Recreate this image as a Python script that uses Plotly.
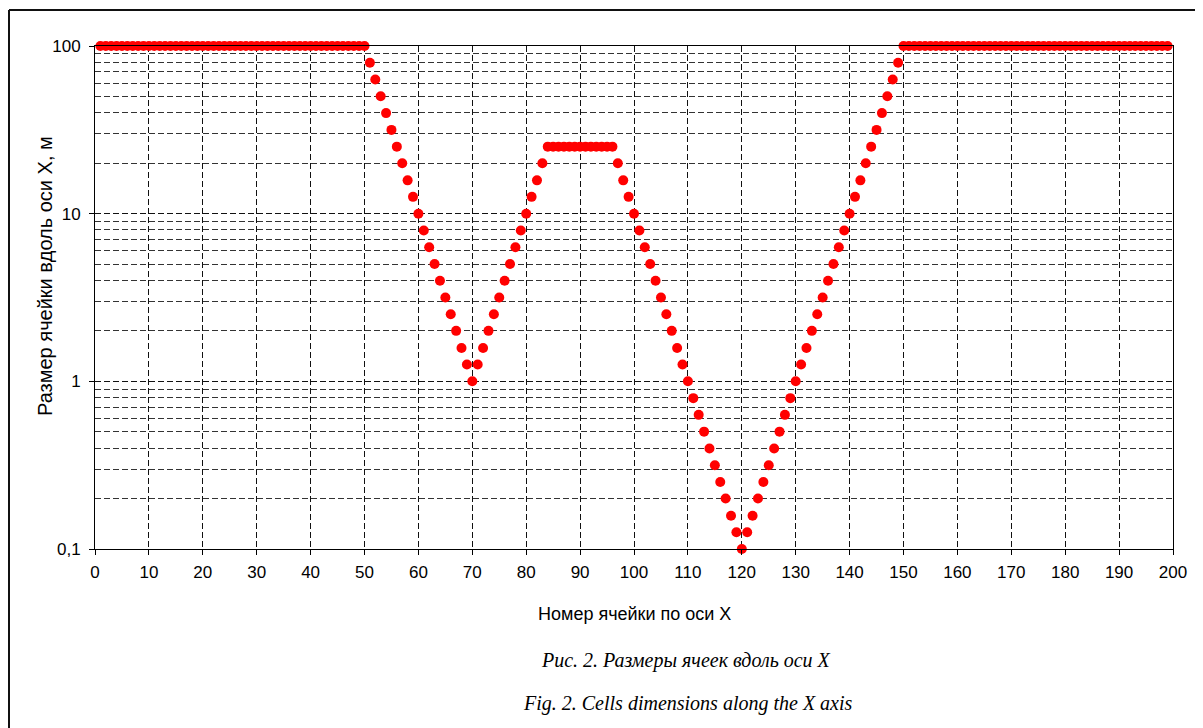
import plotly.graph_objects as go

# ---- data ----
cells = list(range(1, 200))

size_left_plateau = [
    100, 100, 100, 100, 100, 100, 100, 100, 100, 100,
    100, 100, 100, 100, 100, 100, 100, 100, 100, 100,
    100, 100, 100, 100, 100, 100, 100, 100, 100, 100,
    100, 100, 100, 100, 100, 100, 100, 100, 100, 100,
    100, 100, 100, 100, 100, 100, 100, 100, 100, 100,
]
size_first_dip = [
    79.4, 63.1, 50.1, 39.8, 31.6, 25.1, 20.0, 15.8, 12.6, 10.0,
    7.94, 6.31, 5.01, 3.98, 3.16, 2.51, 2.00, 1.58, 1.26, 1.00,
    1.26, 1.58, 2.00, 2.51, 3.16, 3.98, 5.01, 6.31, 7.94, 10.0,
    12.6, 15.8, 20.0,
]
size_mid_plateau = [25.1, 25.1, 25.1, 25.1, 25.1, 25.1, 25.1, 25.1, 25.1, 25.1, 25.1, 25.1, 25.1]
size_second_dip = [
    20.0, 15.8, 12.6, 10.0, 7.94, 6.31, 5.01, 3.98, 3.16, 2.51,
    2.00, 1.58, 1.26, 1.00, 0.794, 0.631, 0.501, 0.398, 0.316, 0.251,
    0.200, 0.158, 0.126, 0.100, 0.126, 0.158, 0.200, 0.251, 0.316, 0.398,
    0.501, 0.631, 0.794, 1.00, 1.26, 1.58, 2.00, 2.51, 3.16, 3.98,
    5.01, 6.31, 7.94, 10.0, 12.6, 15.8, 20.0, 25.1, 31.6, 39.8,
    50.1, 63.1, 79.4,
]
size_right_plateau = [
    100, 100, 100, 100, 100, 100, 100, 100, 100, 100,
    100, 100, 100, 100, 100, 100, 100, 100, 100, 100,
    100, 100, 100, 100, 100, 100, 100, 100, 100, 100,
    100, 100, 100, 100, 100, 100, 100, 100, 100, 100,
    100, 100, 100, 100, 100, 100, 100, 100, 100, 100,
]
cell_size = size_left_plateau + size_first_dip + size_mid_plateau + size_second_dip + size_right_plateau

x_ticks = list(range(0, 201, 10))
y_major = [0.1, 1, 10, 100]
y_major_text = ["0,1", "1", "10", "100"]
y_minor = [0.2, 0.3, 0.4, 0.5, 0.6, 0.7, 0.8, 0.9,
           2, 3, 4, 5, 6, 7, 8, 9,
           20, 30, 40, 50, 60, 70, 80, 90]

x_title = "Номер ячейки по оси X"
y_title = "Размер ячейки вдоль оси X, м"
caption_ru = "Рис. 2. Размеры ячеек вдоль оси X"
caption_en = "Fig. 2. Cells dimensions along the X axis"

# ---- figure (page body has an 8px margin, so everything is offset) ----
OFF = 8
W, H = 1203 - OFF, 728 - OFF
L, T = 95 - OFF, 46 - OFF
pw, ph = 1078, 503
R = W - L - pw
B = H - T - ph

def px_x(p):
    return (p - OFF - L) / pw

def px_y(p):
    return (T + ph - (p - OFF)) / ph

fig = go.Figure()
fig.add_trace(go.Scatter(
    x=cells, y=cell_size, mode="markers",
    marker=dict(color="#ff0000", size=10, line=dict(width=0)),
    cliponaxis=False, showlegend=False,
))

grid_dash = "6px,3px"
sans = "Liberation Sans, Arial, sans-serif"
serif = "Liberation Serif, Times New Roman, serif"
fig.update_layout(
    width=W, height=H,
    margin=dict(l=L, r=R, t=T, b=B, autoexpand=False),
    paper_bgcolor="white", plot_bgcolor="white",
    font=dict(family=sans, size=17, color="black"),
    showlegend=False,
    xaxis=dict(
        range=[0, 200], tickmode="array", tickvals=x_ticks,
        ticks="outside", ticklen=5, tickcolor="black", tickwidth=1,
        showline=True, linecolor="black", linewidth=1, mirror=True,
        showgrid=True, gridcolor="#111", griddash=grid_dash, gridwidth=1,
        zeroline=False, tickfont=dict(size=17), ticklabelstandoff=3,
    ),
    yaxis=dict(
        type="log", range=[-1, 2], tickmode="array",
        tickvals=y_major, ticktext=y_major_text,
        ticks="outside", ticklen=5, tickcolor="black", tickwidth=1,
        showline=True, linecolor="black", linewidth=1, mirror=True,
        showgrid=True, gridcolor="#111", griddash=grid_dash, gridwidth=1,
        zeroline=False, tickfont=dict(size=17), ticklabelstandoff=5,
        minor=dict(tickmode="array", tickvals=y_minor, ticks="",
                   showgrid=True, gridcolor="#333", griddash=grid_dash, gridwidth=1),
    ),
)

fig.add_annotation(text=x_title, xref="paper", yref="paper",
                   x=px_x(634), y=px_y(614), showarrow=False,
                   xanchor="center", yanchor="middle",
                   font=dict(size=18, family=sans))
fig.add_annotation(text=y_title, xref="paper", yref="paper",
                   x=px_x(45), y=px_y(276), showarrow=False, textangle=-90,
                   xanchor="center", yanchor="middle",
                   font=dict(size=20, family=sans))
fig.add_annotation(text="<i>" + caption_ru + "</i>", xref="paper", yref="paper",
                   x=px_x(686), y=px_y(660), showarrow=False,
                   xanchor="center", yanchor="middle",
                   font=dict(size=20, family=serif))
fig.add_annotation(text="<i>" + caption_en + "</i>", xref="paper", yref="paper",
                   x=px_x(688), y=px_y(703), showarrow=False,
                   xanchor="center", yanchor="middle",
                   font=dict(size=20, family=serif))

# outer frame (top and left edges visible in the reference)
fig.add_shape(type="line", xref="paper", yref="paper",
              x0=px_x(9), x1=px_x(1210), y0=px_y(10), y1=px_y(10),
              line=dict(color="#111", width=2))
fig.add_shape(type="line", xref="paper", yref="paper",
              x0=px_x(9), x1=px_x(9), y0=px_y(10), y1=px_y(735),
              line=dict(color="#111", width=2))

fig.write_html("out.html")
